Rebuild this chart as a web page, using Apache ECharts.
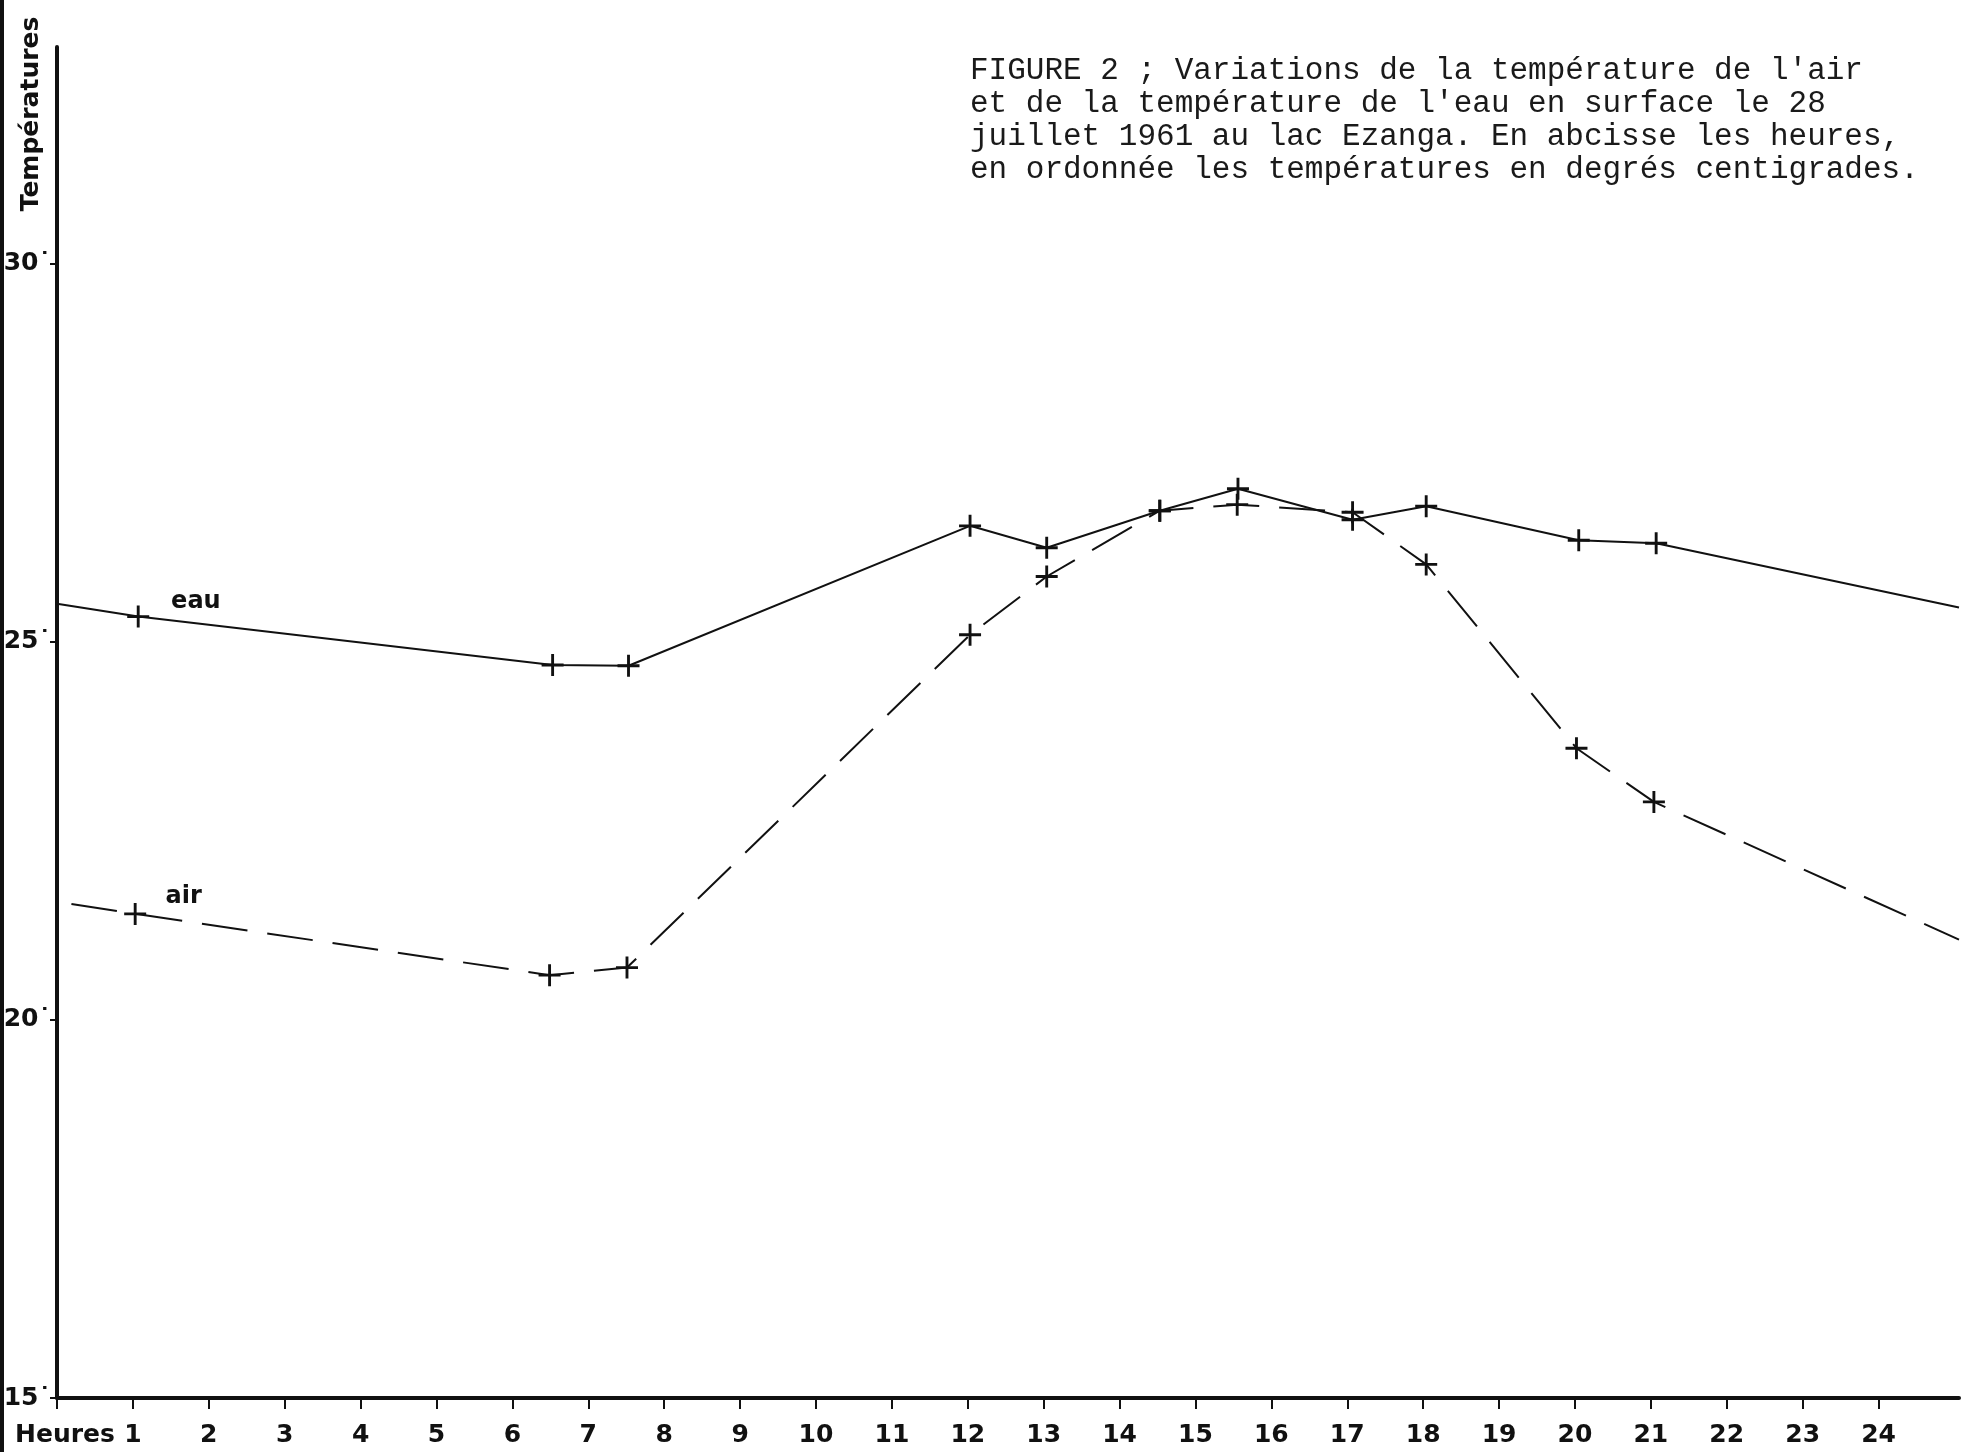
<!DOCTYPE html>
<html>
<head>
<meta charset="utf-8">
<script src="https://cdn.jsdelivr.net/npm/echarts@6/dist/echarts.min.js"></script>
<style>
  html, body { margin: 0; padding: 0; background: #ffffff; }
  #chart { width: 1972px; height: 1452px; }
</style>
</head>
<body>
<div id="chart"></div>
<script>
// Heure de chaque relevé (en heures) et températures (°C), 28 juillet 1961, lac Ezanga
const eauHours = [0, 1.07, 6.53, 7.53, 12.03, 13.04, 14.53, 15.56, 17.07, 18.04, 20.05, 21.07, 25.06];
const eauTemps = [25.50, 25.33, 24.69, 24.68, 26.53, 26.24, 26.73, 27.02, 26.61, 26.79, 26.34, 26.30, 25.45];

const airHours = [0.19, 1.03, 6.49, 7.51, 12.03, 13.04, 14.53, 15.55, 17.07, 18.04, 20.02, 21.04, 25.06];
const airTemps = [21.53, 21.40, 20.59, 20.69, 25.09, 25.86, 26.73, 26.81, 26.71, 26.02, 23.59, 22.88, 21.06];

// Graduations des axes
const hourTicks = [0, 1, 2, 3, 4, 5, 6, 7, 8, 9, 10, 11, 12, 13, 14, 15, 16, 17, 18, 19, 20, 21, 22, 23, 24];
const hourLabels = [1, 2, 3, 4, 5, 6, 7, 8, 9, 10, 11, 12, 13, 14, 15, 16, 17, 18, 19, 20, 21, 22, 23, 24];
const tempTicks = [15, 20, 25, 30];

// Emplacement des noms des courbes (heure, température)
const eauNameAt = [1.83, 25.53];
const airNameAt = [1.67, 21.62];

const titleLines = [
  "FIGURE 2 ; Variations de la température de l'air",
  "et de la température de l'eau en surface le 28",
  "juillet 1961 au lac Ezanga. En abcisse les heures,",
  "en ordonnée les températures en degrés centigrades."
];

const INK = '#111111';
const LETTER_FONT = '"DejaVu Sans", sans-serif';
const PLUS = 'path://M10,0h3v23h-3zM0,10h23v3h-23z';

const zip = (xs, ys) => xs.map((x, i) => [x, ys[i]]);
// Les extrémités des courbes ne portent pas de croix
const plusExceptEnds = (n) => (value, params) =>
  (params.dataIndex === 0 || params.dataIndex === n - 1) ? 'none' : PLUS;

const chart = echarts.init(document.getElementById('chart'), null, { renderer: 'canvas' });

chart.setOption({
  animation: false,
  backgroundColor: '#ffffff',
  grid: { left: 57, right: 13, top: 47, bottom: 54, containLabel: false },
  xAxis: {
    type: 'value',
    min: 0,
    max: 25.06,
    interval: 1,
    splitLine: { show: false },
    axisLine: { show: true, onZero: false, lineStyle: { color: INK, width: 4 } },
    axisTick: { show: true, customValues: hourTicks, length: 11, lineStyle: { color: INK, width: 2 } },
    axisLabel: {
      show: true,
      customValues: hourLabels,
      margin: 25,
      color: INK,
      fontFamily: LETTER_FONT,
      fontWeight: 'bold',
      fontSize: 25
    }
  },
  yAxis: {
    type: 'value',
    min: 15,
    max: 32.86,
    interval: 5,
    splitLine: { show: false },
    axisLine: { show: true, onZero: false, lineStyle: { color: INK, width: 4 } },
    axisTick: { show: true, customValues: tempTicks, length: 7, lineStyle: { color: INK, width: 2 } },
    axisLabel: {
      show: true,
      customValues: tempTicks,
      margin: 6,
      color: INK,
      fontFamily: LETTER_FONT,
      fontWeight: 'bold',
      fontSize: 25,
      formatter: (v) => v + '˙'
    }
  },
  series: [
    {
      name: 'eau',
      type: 'line',
      data: zip(eauHours, eauTemps),
      symbol: plusExceptEnds(eauHours.length),
      symbolSize: 22,
      symbolKeepAspect: true,
      showAllSymbol: true,
      itemStyle: { color: INK },
      lineStyle: { color: INK, width: 2, type: 'solid' },
      markPoint: {
        symbol: 'circle',
        symbolSize: 1,
        itemStyle: { color: 'transparent' },
        label: {
          show: true, position: 'inside', formatter: 'eau',
          color: INK, fontFamily: LETTER_FONT, fontWeight: 'bold', fontSize: 24
        },
        data: [{ coord: eauNameAt }]
      }
    },
    {
      name: 'air',
      type: 'line',
      data: zip(airHours, airTemps),
      symbol: plusExceptEnds(airHours.length),
      symbolSize: 22,
      symbolKeepAspect: true,
      showAllSymbol: true,
      itemStyle: { color: INK },
      lineStyle: { color: INK, width: 2, type: [46, 20] },
      markPoint: {
        symbol: 'circle',
        symbolSize: 1,
        itemStyle: { color: 'transparent' },
        label: {
          show: true, position: 'inside', formatter: 'air',
          color: INK, fontFamily: LETTER_FONT, fontWeight: 'bold', fontSize: 24
        },
        data: [{ coord: airNameAt }]
      }
    }
  ],
  graphic: [
    // bord gauche de la planche
    { type: 'rect', shape: { x: 0, y: 0, width: 4, height: 1452 }, style: { fill: INK } },
    {
      type: 'text',
      x: 970, y: 54,
      style: {
        text: titleLines.join('\n'),
        font: '31px "Liberation Mono", monospace',
        lineHeight: 33,
        fill: '#1a1a1a'
      }
    },
    {
      type: 'text',
      x: 31, y: 114,
      rotation: Math.PI / 2,
      style: {
        text: 'Températures',
        font: 'bold 25px ' + LETTER_FONT,
        textAlign: 'center',
        textVerticalAlign: 'middle',
        fill: INK
      }
    },
    {
      type: 'text',
      x: 15, y: 1435,
      style: {
        text: 'Heures',
        font: 'bold 25px ' + LETTER_FONT,
        textAlign: 'left',
        textVerticalAlign: 'middle',
        fill: INK
      }
    }
  ]
});
</script>
</body>
</html>
